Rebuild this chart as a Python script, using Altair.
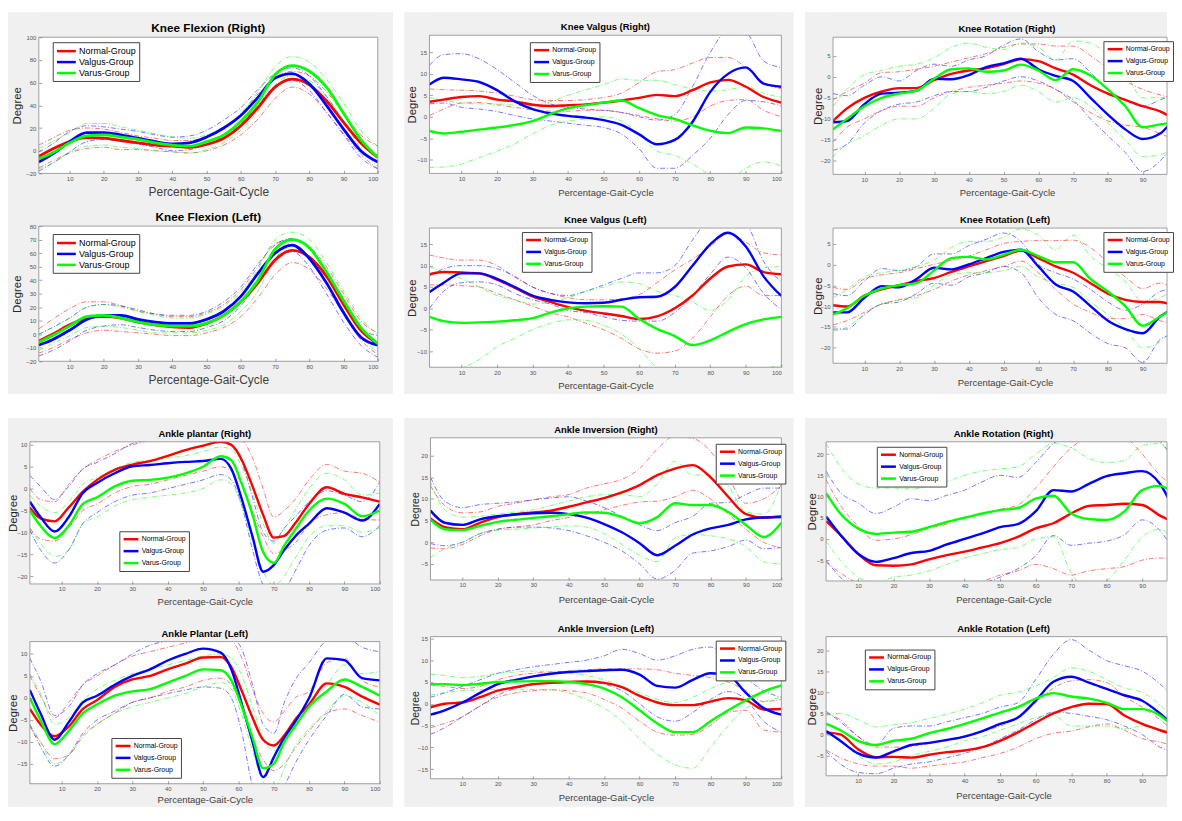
import altair as alt
import pandas as pd

GROUPS = ["Normal-Group", "Valgus-Group", "Varus-Group"]
SD_GROUPS = ["Normal-Group SD", "Valgus-Group SD", "Varus-Group SD"]
COLORS = ["#ff0000", "#0000ff", "#00ff00"]
FONT = "Liberation Sans"
PANEL_BG = "#f0f0f0"

X_STD = [1, 5, 10, 15, 20, 25, 30, 35, 40, 45, 50, 55, 60, 65, 70, 75, 80, 85, 90, 95, 100]
X_RC = [1, 5, 10, 15, 20, 25, 30, 35, 40, 45, 50, 55, 60, 65, 70, 75, 80, 85, 90, 95, 98]
X_AP = [1, 4, 8, 12, 16, 20, 25, 30, 35, 40, 45, 50, 55, 58, 61, 64, 67, 70, 73, 76, 80, 85, 90, 95, 100]
X_TICKS = [10, 20, 30, 40, 50, 60, 70, 80, 90, 100]
X_TICKS_RC = [10, 20, 30, 40, 50, 60, 70, 80, 90]

# Knee Flexion (Right)
KFR_NORMAL    = [-5, 1.5, 8, 11.5, 11, 9, 7, 5, 4, 3, 5.5, 11, 22, 38, 56, 63, 58, 44, 25, 7, -6]
KFR_NORMAL_HI = [5, 11, 18, 20, 19, 16, 13, 11, 9, 9, 12, 19, 32, 50, 64, 70, 66, 52, 33, 14, 4]
KFR_NORMAL_LO = [-15, -9, -2, 2, 3, 1, 1, 0, -1, -2, 0, 5, 14, 28, 46, 56, 50, 34, 15, -3, -16]
KFR_VALGUS    = [-10, -3, 8, 16, 16, 14, 11, 8, 6, 7, 12, 20, 31, 47, 64, 68, 59, 40, 19, 0, -10]
KFR_VALGUS_HI = [-1, 6, 17, 22, 21, 19, 17, 14, 12, 13, 18, 27, 38, 54, 68, 73, 66, 48, 26, 7, -4]
KFR_VALGUS_LO = [-18, -11, -1, 8, 10, 8, 6, 3, 0, 1, 6, 13, 24, 40, 57, 62, 53, 34, 14, -6, -16]
KFR_VARUS     = [-7, -2, 7, 13, 14, 12, 10, 7, 5, 4, 8, 14, 26, 43, 67, 75, 70, 56, 33, 10, -6]
KFR_VARUS_HI  = [2, 8, 16, 24, 24, 21, 18, 15, 12, 11, 14, 21, 33, 52, 74, 83, 78, 63, 42, 18, 4]
KFR_VARUS_LO  = [-16, -11, -2, 4, 5, 3, 2, 0, -1, -2, 1, 7, 18, 35, 58, 66, 62, 48, 26, 2, -14]

# Knee Flexion (Left)
KFL_NORMAL    = [-5, 0, 7, 12, 13, 12, 9, 7, 5.5, 5, 8, 14, 24, 38, 55, 62, 57, 43, 22, 3, -7]
KFL_NORMAL_HI = [4, 11, 19, 24, 24, 21, 17, 15, 13, 13, 16, 22, 33, 50, 67, 70, 65, 50, 30, 10, 1]
KFL_NORMAL_LO = [-14, -10, -4, 1, 3, 2, 1, 0, -1, -1, 1, 5, 13, 27, 44, 53, 48, 34, 15, -4, -15]
KFL_VALGUS    = [-8, -4, 3, 11, 14, 14, 11, 9, 8, 8, 11, 17, 28, 45, 60, 66, 56, 38, 16, -2, -8]
KFL_VALGUS_HI = [0, 5, 12, 20, 22, 21, 18, 15, 14, 14, 17, 24, 35, 52, 66, 71, 63, 45, 24, 4, -1]
KFL_VALGUS_LO = [-16, -12, -5, 3, 6, 7, 5, 3, 2, 2, 5, 10, 21, 38, 54, 61, 50, 30, 9, -8, -17]
KFL_VARUS     = [-6, -1, 6, 13, 14, 12, 9, 7, 6, 6, 8, 14, 24, 40, 63, 70, 64, 46, 25, 5, -7]
KFL_VARUS_HI  = [0, 5, 12, 20, 22, 20, 17, 14, 12, 12, 15, 21, 31, 48, 70, 75.5, 70, 53, 32, 12, 0]
KFL_VARUS_LO  = [-12, -7, -1, 5, 6, 5, 3, 1, 1, 1, 3, 7, 17, 32, 56, 65, 58, 40, 18, -2, -13]

# Knee Valgus (Right)
KVR_NORMAL    = [3.5, 4, 4.6, 4.8, 4, 3.6, 2.8, 2.5, 2.7, 2.9, 3.3, 3.8, 4.4, 5.1, 4.8, 6.2, 8, 8.6, 7, 4.6, 3.3]
KVR_NORMAL_HI = [6.5, 6.3, 6.2, 6, 5.5, 4.8, 4, 3.8, 3.8, 4, 4.5, 5.5, 8, 10.5, 11, 12.5, 13.8, 13.8, 11.5, 8, 6.5]
KVR_NORMAL_LO = [0.3, 1.8, 3.2, 3.3, 2.8, 2.2, 1.6, 1.3, 1.3, 1.5, 1.5, 1, 0.3, -0.5, -1, 0, 2.5, 3.8, 4, 1.5, 0]
KVR_VALGUS    = [7.5, 9.1, 8.7, 8.1, 6.2, 3.6, 1.8, 0.8, 0.2, -0.2, -0.8, -1.9, -4.1, -6.4, -5.4, -1.2, 5.8, 10, 11.5, 7.7, 7]
KVR_VALGUS_HI = [12, 14.5, 14.7, 13.5, 11, 8, 5, 3, 2.2, 1.8, 1.5, 1, 0, -0.8, 0.5, 7, 15, 20, 19.5, 13, 11.5]
KVR_VALGUS_LO = [3, 3.2, 2.2, 1.8, 1.2, 0.3, -0.5, -1, -1.5, -2, -2.5, -4, -7.5, -12, -12, -9, -5, 0.5, 3.8, 3.5, 2.5]
KVR_VARUS     = [-3.3, -3.9, -3.5, -3.0, -2.5, -1.9, -1.0, 0.6, 2.0, 2.7, 3.3, 3.8, 2.0, 0.4, -0.5, -2.0, -3.3, -3.8, -2.5, -2.7, -3.3]
KVR_VARUS_HI  = [4.5, 3.8, 3.2, 3, 3, 2.7, 2.5, 3.5, 5, 6.3, 7.5, 8.8, 8.5, 8.5, 7.5, 6.5, 6, 6.3, 7, 5.5, 4.5]
KVR_VARUS_LO  = [-11.8, -11.7, -11, -9.5, -8, -6.3, -4, -2, -1, -0.5, 0, -1, -4, -8, -9, -11, -13.5, -14.5, -12, -10.5, -11.5]

# Knee Valgus (Left)
KVL_NORMAL    = [8, 8.5, 8.4, 8.2, 6.7, 4.8, 2.8, 1.5, 0.3, -0.6, -1.2, -1.8, -2.5, -1.9, 0, 3, 7, 9.8, 10.3, 8.5, 8]
KVL_NORMAL_HI = [12.5, 11.8, 11.3, 11.3, 10, 7.3, 5, 3.5, 2.5, 2, 2, 2.2, 3.2, 6, 9, 11.5, 14.5, 17.5, 15.5, 13, 12.5]
KVL_NORMAL_LO = [5.5, 5.5, 5.3, 5, 3.5, 2, 0.5, -1, -2, -3.5, -5, -7, -9.5, -10.5, -10, -7, -2, 3, 5.2, 3, 3]
KVL_VALGUS    = [3.8, 6, 8.2, 8.2, 6.9, 5, 3, 2, 1.4, 1.2, 1.3, 2, 2.6, 2.7, 5, 10, 15, 17.7, 14.5, 7.5, 2.9]
KVL_VALGUS_HI = [7.5, 9.3, 10, 10, 9.3, 7.5, 5, 3.5, 3, 4, 5.5, 7, 8.3, 8.3, 10, 16, 21, 22, 20, 11, 6.2]
KVL_VALGUS_LO = [0, 4, 6, 6.2, 5.5, 3.5, 2, 1, -0.5, -1, -2, -2.8, -3, -3, -1, 3, 8, 12, 9.5, 3.5, -0.3]
KVL_VARUS     = [-2, -3, -3.4, -3.3, -3.1, -2.8, -2.3, -1, 0, 0.4, 0.5, 0.4, -2.5, -4.8, -6.5, -8.6, -7.5, -5.5, -3.7, -2.6, -2]
KVL_VARUS_HI  = [9.8, 8.5, 7, 5, 3, 2, 1, 1.5, 2.5, 4, 5, 6.2, 5.8, 4, 3, 1.5, -0.5, 2, 7.5, 9.5, 9.8]
KVL_VARUS_LO  = [-16, -15, -14, -12, -9, -7, -5, -3.5, -2.7, -2.8, -4, -6, -9.5, -14, -17, -18, -18, -17, -15, -14, -13.5]

# Knee Rotation (Right)
KRR_NORMAL    = [-10.5, -7.5, -5, -3.5, -2.7, -2.7, -0.8, 0.7, 1.5, 2, 3, 4.2, 3.7, 2, 0.5, -2, -4, -5.5, -7, -8.2, -9.5]
KRR_NORMAL_HI = [-5.5, -3.5, -1.5, 1, 1.2, 1.8, 2.5, 3.5, 4.5, 5.5, 7, 7.8, 7.8, 7.3, 7.3, 5, 2, -1, -3, -4.3, -5]
KRR_NORMAL_LO = [-15.5, -12, -10, -8, -7, -7, -5, -3.5, -2.5, -2, -1.5, -1, -1.5, -3, -6, -8.5, -10.5, -11.5, -12, -13.5, -14.5]
KRR_VALGUS    = [-10.8, -10.5, -6.5, -4, -3.8, -3.3, -0.5, -0.6, 0.4, 2.3, 3.2, 4.3, 1.8, 0.2, -1, -5, -9, -12.5, -14.8, -13.5, -11]
KRR_VALGUS_HI = [-4, -4.5, -2, 0, -1, 1.5, 3, 2.5, 4, 5, 7.5, 9, 6, 4, 4.3, 1, -3, -5.5, -7, -5.5, -4.5]
KRR_VALGUS_LO = [-17.5, -16, -11, -8, -6.5, -6, -4.5, -3.5, -3.5, -2.5, -1, 0, -1, -3, -5.5, -10, -14, -18, -22.5, -20, -17]
KRR_VARUS     = [-12.5, -10, -7, -5, -4, -3.3, -0.5, 1.8, 2, 1.2, 1.5, 2.9, 1.5, -0.8, 1.8, 0.3, -3, -7, -12, -11.3, -11]
KRR_VARUS_HI  = [-7, -3, 0.5, 1.5, 2.5, 3, 4.5, 7, 8, 7, 6.5, 8, 7, 4, 8.5, 8, 5, 1, -5, -5, -4.5]
KRR_VARUS_LO  = [-19, -16, -14, -11.5, -10, -10, -7.5, -4, -3.5, -4, -3.5, -2, -3.5, -6, -5, -7, -11, -15, -19, -18.5, -17.5]

# Knee Rotation (Left)
KRL_NORMAL    = [-9.8, -10.1, -7.5, -6, -5, -4, -3.3, -1.8, -0.5, 0.8, 2, 3.3, 1.5, -0.5, -2, -4.5, -7, -8.5, -9, -9, -9.6]
KRL_NORMAL_HI = [-5.5, -6, -3.5, -2.5, -2, -1, 0, 1, 2, 3.5, 5, 5.5, 5.7, 5.7, 5.8, 4, 0.5, -3, -5.8, -4.5, -5.3]
KRL_NORMAL_LO = [-14.5, -13.5, -11.5, -9.5, -8.5, -7.5, -6, -4, -2.5, -1.5, -0.5, 0.8, -2, -6, -9.5, -11.5, -13, -13, -12, -13.5, -14]
KRL_VALGUS    = [-11.5, -11.5, -8, -5.2, -5.5, -3.5, -0.8, -1.2, 0, 1.5, 3, 3.5, -0.5, -4.8, -6.5, -10, -13.5, -15.5, -16.5, -12.5, -11]
KRL_VALGUS_HI = [-7, -7.5, -4, -1, -1.5, -0.5, 2.5, 2.5, 4.5, 6, 7.5, 5.5, 0, -2, -3.5, -6, -9, -11, -9.5, -6.5, -6]
KRL_VALGUS_LO = [-15.5, -15.5, -12, -9.5, -9, -7, -4.5, -5, -3, -2, -0.5, -2, -8, -12, -13.5, -16.5, -19, -20, -23.5, -18, -17]
KRL_VARUS     = [-12, -10.5, -7.5, -5.8, -5, -4.5, -1.5, 1.5, 1.8, 1.2, 2.3, 3.5, 2, 0.5, 0.5, -3.5, -6.5, -10, -14.7, -12.5, -11]
KRL_VARUS_HI  = [-8, -6, -3, -2, -1.5, -0.5, 1, 4, 5.5, 5.5, 6.5, 8.5, 7, 3.5, 7, 2, -1, -4, -9, -8, -6.5]
KRL_VARUS_LO  = [-16, -15, -12, -9.5, -8.5, -8, -5, -2.5, -2, -2, -1.5, -0.5, -3, -4.5, -5.5, -9, -12, -15.5, -20, -18.5, -16]

# Ankle plantar (Right)
APR_NORMAL    = [-4.3, -6.8, -7.5, -4.3, -0.7, 2, 4.3, 5.5, 6.3, 7.5, 8.8, 9.8, 10.7, 10, 6.5, 0.5, -6, -11.2, -10.8, -8, -3.5, 0.3, -1.2, -2, -3]
APR_NORMAL_HI = [0, -2.5, -3, 1, 4.5, 6.5, 8.5, 10, 11, 11.5, 12, 12, 12, 11.5, 11, 7, 0, -6.5, -5, -2.5, 2, 5.5, 4, 3.5, 1.5]
APR_NORMAL_LO = [-9, -11.5, -12, -9, -5, -3.5, -1, 0.5, 1, 2, 3, 4, 5, 4, 1, -5, -11, -14.8, -14, -12.5, -8, -6, -5.5, -7, -7.2]
APR_VALGUS    = [-3, -6.5, -9.8, -6.5, -1, 1.3, 3.5, 5.1, 5.4, 5.8, 6.1, 6.3, 6.8, 4.5, -2.5, -11, -19, -17.5, -14, -11, -8, -4.5, -5.5, -7.3, -3.5]
APR_VALGUS_HI = [3, 0.5, -2.5, 0.5, 4.5, 6, 8, 10.3, 11, 11, 11, 11, 11, 10, 6, -2, -10, -12, -9, -6.5, -3, -0.5, -1.5, -3, 1.5]
APR_VALGUS_LO = [-9.5, -14, -17, -14, -8, -5.5, -3, -1.5, -1, 0, 1, 2, 3.2, 2, -4, -14, -22, -24, -23, -19, -13, -9.5, -9, -11, -8.5]
APR_VARUS     = [-5, -8.5, -11.3, -8.5, -3.5, -2, 0.5, 1.8, 2, 2.5, 3.5, 5, 7.4, 6.5, 1, -6, -14.5, -17, -13, -9.5, -5, -2.3, -3.5, -6.3, -5]
APR_VARUS_HI  = [-1.5, -4, -5.5, -3, 1, 2.5, 4.5, 6, 6.5, 7, 7.5, 8.5, 9.5, 9, 5, -1, -8, -12.5, -9, -5, 0, 3.5, 2, -1.5, -1]
APR_VARUS_LO  = [-9, -12.5, -15.5, -14, -8, -6.5, -4, -2.5, -2, -1.5, -1, 0, 2, 1, -4, -12, -19, -22, -20, -16, -11, -8.5, -8.5, -10, -9]

# Ankle Plantar (Left)
APL_NORMAL    = [-2.5, -6, -8.7, -6.5, -2.5, -0.5, 2.5, 4.2, 5, 6.5, 7.8, 9.2, 9.3, 7, 1.5, -4.5, -9.5, -10.8, -8.5, -5, -1.5, 3.3, 2.5, 0.3, -1.5]
APL_NORMAL_HI = [5, 0.5, -4.5, -1, 3, 5, 7.5, 9.5, 10.5, 11.5, 12.5, 13.5, 13.5, 13, 9, 2, -3.5, -5.5, -3, 0, 1.5, 8, 9, 4, 2.5]
APL_NORMAL_LO = [-6.5, -10, -13.8, -13, -8.5, -6, -3.5, -1, 0, 1.5, 2.5, 4, 4.5, 3, -2, -9, -14, -16.5, -15, -11.5, -7.5, -3.5, -2.5, -4, -5.5]
APL_VALGUS    = [1.8, -3.5, -9.5, -5.5, -1, 0.5, 3, 5, 6.5, 8.5, 10, 11.2, 10.3, 6.5, -1.5, -10, -18, -13.5, -9, -5.5, 0, 9, 8.6, 4.5, 4]
APL_VALGUS_HI = [9, 4, -4, -2, 3, 5.5, 7.5, 10, 12, 13, 14, 15, 15, 14, 11, 3, -6, -8, -1, 4, 8, 13, 14, 11.5, 10.5]
APL_VALGUS_LO = [-6, -11, -15.5, -13, -8, -5, -3, -1, 0, 1, 1.8, 2.5, 2.2, 0, -8, -20, -24, -24, -20, -15, -9.5, -4, 0.8, -2, -2.5]
APL_VARUS     = [0, -5, -10.5, -7.5, -3.5, -1.5, 0.5, 1.5, 2, 3.5, 5, 6.5, 6.3, 4, -2, -9, -16, -15, -10, -6.5, -2, 1.5, 4.2, 2.5, 0.5]
APL_VARUS_HI  = [5.5, 1, -6, -4.5, -0.5, 2, 4, 5.5, 6.5, 7.5, 8.5, 9.5, 10, 9, 5, -2, -9, -12, -9, -5, -1, 3, 7.5, 5.5, 6]
APL_VARUS_LO  = [-6, -10, -15, -13, -9, -6, -3.5, -2, -1, 0, 1, 2.5, 3.5, 2, -4, -12, -19, -21, -16, -11, -7, -3, 0.5, -1, -4]

# Ankle Inversion (Right)
AIR_NORMAL    = [5.5, 3.5, 3, 4.5, 5.8, 6.5, 6.9, 7.3, 8.2, 9.2, 10.2, 11.5, 13.2, 15.5, 17, 17.8, 15, 10.5, 6.5, 5.7, 6]
AIR_NORMAL_HI = [13, 8.5, 6.8, 7, 8.3, 9, 9.8, 10.5, 11, 12.5, 13.5, 14.5, 17, 21.5, 24.5, 24, 21, 15, 9, 10, 13]
AIR_NORMAL_LO = [-1.3, -1.5, -0.5, 1.5, 3, 3.5, 4, 5, 5.7, 6.5, 7.5, 8.5, 9.3, 9.5, 10.5, 12, 10, 6.5, 3, 0, -1.3]
AIR_VALGUS    = [7.3, 4.5, 4, 5.3, 6, 6.4, 6.7, 6.8, 6.5, 5.7, 4.2, 2.3, -0.2, -3, -0.8, 1.8, 3.2, 4, 5.3, 5.7, 5.8]
AIR_VALGUS_HI = [15, 9.5, 8, 8.7, 9, 9.3, 9.8, 10.2, 10.5, 9.5, 8, 6, 4, 2.7, 4.5, 6, 9, 9.2, 11, 12.5, 12.5]
AIR_VALGUS_LO = [-0.3, -0.8, 0, 2, 3, 3.5, 3.5, 3.3, 2.7, 1.5, 0, -2, -5, -8.5, -6.5, -2.5, -2, -1, 0.5, -1.5, -1.2]
AIR_VARUS     = [5.2, 3, 2.8, 3.8, 4.7, 5.2, 5.6, 6, 6.5, 6.9, 6.8, 5.8, 4.4, 5.8, 9, 8.6, 8.6, 7, 4, 1.2, 4.5]
AIR_VARUS_HI  = [14, 7.5, 5.8, 6, 6.5, 7, 7.5, 8.5, 9.5, 10.5, 11, 11, 10.5, 13.5, 18.7, 15.5, 15.5, 13, 7, 6.5, 13.5]
AIR_VARUS_LO  = [-3.5, -1.5, 0, 2, 2.8, 3, 3.3, 3.5, 3.8, 3.5, 2, -0.5, -3, -4.5, 1, 1.8, 1.5, 0.8, -1, -4.5, -5]

# Ankle Inversion (Left)
AIL_NORMAL    = [-0.8, 0, 0.3, 1.5, 3, 3.8, 4.5, 4.8, 5, 5.1, 4.8, 3.8, 1.8, 0.3, -0.3, -0.3, 0.5, 1.3, 0.8, -1.3, -1.2]
AIL_NORMAL_HI = [4.3, 4, 3.5, 4, 5.5, 6.5, 7, 7.3, 7.5, 7.8, 8, 8, 8, 7.8, 7, 6.5, 6, 5, 3, 0.5, 1]
AIL_NORMAL_LO = [-5.5, -4.5, -3, -0.5, 1.5, 2.5, 3, 3.2, 3, 2.5, 1, -1, -4, -6.5, -7.2, -7, -5, -2, -1.5, -6, -6.5]
AIL_VALGUS    = [-2.5, -1.5, 0.3, 2.5, 4.5, 5.5, 6.3, 6.9, 7.3, 7.5, 7.7, 7.8, 6.7, 4.1, 3.7, 5.5, 7, 6.5, 2.5, -1, -2.5]
AIL_VALGUS_HI = [1.5, 2.5, 4, 5.5, 7, 7.8, 8.5, 9, 9.5, 10, 11, 12.5, 11.5, 10, 11, 12.5, 13, 10, 6, 3, 1.5]
AIL_VALGUS_LO = [-7, -5.5, -3, -0.5, 2, 3.5, 4.3, 4.7, 5, 5, 4.5, 3, 0, -3, -4, -2, 1, 2.8, 1, -4, -6.5]
AIL_VARUS     = [4.5, 4.5, 4.3, 4.6, 5, 5.1, 5.2, 5.2, 5, 4.5, 3.5, 1.5, -1.5, -4.5, -6.5, -6.5, -4, -1.5, 0.8, 2.8, 4.2]
AIL_VARUS_HI  = [6.8, 6.5, 6, 6.3, 7, 7.3, 7.5, 7.3, 7, 6.5, 5.5, 4, 2.5, 1, 0.3, 1.5, 3.5, 5, 5.5, 6, 6.8]
AIL_VARUS_LO  = [2, 2.5, 3, 3.2, 3.3, 3.3, 3.3, 3.2, 2.5, 1, -1, -4, -8, -11.5, -14, -14.8, -10, -5, -1, 0.5, 1.5]

# Ankle Rotation (Right)
ARR_NORMAL    = [4.2, 1, -3.5, -6.2, -6.3, -6, -4.8, -3.8, -3, -2, -1, 0.5, 2.5, 3.7, 6, 7.8, 8, 8.3, 8, 5.5, 4.3]
ARR_NORMAL_HI = [14, 8, 3, -0.3, 0, 1, 2.5, 3.5, 5, 6, 7, 8, 12, 17, 21.5, 24, 25, 24, 20, 15, 13]
ARR_NORMAL_LO = [-5.5, -8, -10.5, -12, -12.5, -12.5, -12, -11.5, -11, -10, -8.5, -7.5, -6, -7, -8.5, -7.5, -7, -6.5, -5, -4.5, -4.5]
ARR_VALGUS    = [5.3, 1, -3.5, -5.4, -4.5, -3.3, -2.8, -1.3, 0, 1.3, 2.8, 3.5, 6.5, 11.5, 11.2, 13, 14.8, 15.5, 16, 13, 8.5]
ARR_VALGUS_HI = [16, 11, 8.5, 6, 7.5, 9.5, 9, 10.3, 11.5, 13.5, 15, 14.5, 18, 22.5, 25, 26, 26, 26, 25, 23, 20]
ARR_VALGUS_LO = [-5, -9, -12, -14, -15, -15, -14, -13, -12, -10.5, -9, -7, -4, 0.8, -1.5, -1, -0.5, 1, 4.5, 2, -1.5]
ARR_VARUS     = [10.8, 6, 2.5, 1.2, 1.5, 1.7, 2.8, 4, 5, 6, 6.8, 7.3, 9.5, 10.2, 6, 4.7, 4.5, 6.5, 11.5, 12.5, 11.3]
ARR_VARUS_HI  = [22.5, 17, 13, 12, 12, 11.8, 12.5, 13.5, 15, 16, 16.5, 17, 20, 22.5, 21.5, 19, 18, 18.5, 22, 22.5, 19]
ARR_VARUS_LO  = [-0.5, -5, -9, -10.3, -9, -8.5, -7.5, -6, -4.5, -3.5, -2.5, -2, 0, 0.5, -8, -12, -10, -5, 0.5, 2.3, 0.5]

# Ankle Rotation (Left)
ARL_NORMAL    = [0.5, 0, -3.5, -5.4, -5.3, -5.5, -4.8, -4.2, -3.8, -3, -1.5, 0.5, 2.8, 5, 6.5, 7.3, 7.2, 4.5, 2.5, 1, 0.2]
ARL_NORMAL_HI = [5, 3.5, -0.5, -3, -3, -2.8, -2.2, -1.5, -0.3, 0.8, 2, 4, 7.5, 11, 12.7, 13, 12.3, 9, 6.5, 3.5, 1.5]
ARL_NORMAL_LO = [-3.7, -5.5, -7, -7.5, -7.5, -8, -7.5, -7, -6.5, -5.5, -4.5, -3, -1, 0.3, 0.8, 1.8, 2.5, 1, -1, -1.8, -2.5]
ARL_VALGUS    = [0.8, -1.5, -4.5, -5.5, -4, -2.5, -2, -1.3, -0.5, 0.8, 2.5, 4, 8, 12.5, 13.7, 12.3, 10.8, 9.3, 8, 5, 2.8]
ARL_VALGUS_HI = [5.5, 3, -0.5, -2.5, 1.5, 2, 2, 3, 4, 5, 6.5, 7.5, 13, 19, 22.5, 20, 17.5, 16.3, 15, 12, 9.5]
ARL_VALGUS_LO = [-4, -7, -9, -9.3, -8, -7, -6.5, -5.5, -4.5, -3, -1, 1, 3.5, 5.3, 5, 4.3, 3.5, 2, 0, -3, -4]
ARL_VARUS     = [2.5, 1, -1.5, -2.5, -1.5, -1, 0.3, 1.3, 2.5, 3.8, 5.2, 6.5, 8.5, 9.8, 9, 8.5, 7.5, 6, 6, 4.5, 2.5]
ARL_VARUS_HI  = [4.5, 5, 3.5, 1.8, 2.3, 2.8, 3.8, 4.8, 6, 7.5, 9.3, 10, 11.5, 13.5, 15.8, 15, 13, 11, 10, 7, 4.5]
ARL_VARUS_LO  = [0, -1.5, -5, -7, -6.5, -5, -4, -3, -1.5, -0.5, 1, 2.5, 4, 4.5, 2, 2, 2, 1.3, 2, 1.3, 0.5]

TICK = 3  # inward tick length (MATLAB style)


def panel(title, xs, series, w, h, margins, xdom, ydom, yticks, xticks,
          ytx, xty, leg, big=False, dx=0, ytfs=11.5):
    L, T, R, B = margins
    W, H = L + w + R, T + h + B
    mean_rows, sd_rows = [], []
    for g, gs, (m, hi, lo) in zip(GROUPS, SD_GROUPS, series):
        for x, v in zip(xs, m):
            mean_rows.append({"x": x, "v": v, "g": g})
        for x, v in zip(xs, hi):
            sd_rows.append({"x": x, "v": v, "gs": gs, "b": "hi"})
        for x, v in zip(xs, lo):
            sd_rows.append({"x": x, "v": v, "gs": gs, "b": "lo"})
    xsc = alt.Scale(domain=xdom, range=[L, L + w], nice=False, zero=False)
    ysc = alt.Scale(domain=ydom, range=[T + h, T], nice=False, zero=False)
    xaxis = alt.Axis(values=xticks, title="Percentage-Gait-Cycle", grid=False, ticks=True,
                     tickSize=TICK, tickColor="#7a7a7a", tickWidth=0.7,
                     domain=False, offset=-B - TICK, labelFontSize=6, labelColor="#555555",
                     labelFont=FONT, labelPadding=2, titleFont=FONT,
                     titleFontSize=12 if big else 9.5, titleFontWeight="normal",
                     titleColor="#404040", titleX=L + w / 2 + dx, titleY=xty + TICK,
                     titleBaseline="middle", titleAlign="center", zindex=1)
    yaxis = alt.Axis(values=yticks, title="Degree", grid=False, ticks=True, tickSize=TICK,
                     tickColor="#7a7a7a", tickWidth=0.7, domain=False,
                     offset=-L - TICK, labelFontSize=6, labelColor="#555555", labelFont=FONT,
                     labelPadding=3, titleFont=FONT, titleFontSize=ytfs,
                     titleFontWeight="normal", titleColor="#262626", titleX=ytx - TICK,
                     titleY=T + h / 2, titleBaseline="middle", titleAlign="center", zindex=1)
    one = pd.DataFrame({"k": [0]})

    def rect(x0, x1, y0, y1, **kw):
        return alt.Chart(one).mark_rect(**kw).encode(
            x=alt.value(x0), x2=alt.value(x1), y=alt.value(y0), y2=alt.value(y1))

    box = rect(L, L + w, T, T + h, fill="white", strokeWidth=0)
    masks = [rect(0, W, 0, T, fill=PANEL_BG, strokeWidth=0),
             rect(0, W, T + h, H, fill=PANEL_BG, strokeWidth=0),
             rect(0, L, 0, H, fill=PANEL_BG, strokeWidth=0),
             rect(L + w, W, 0, H, fill=PANEL_BG, strokeWidth=0)]
    border = rect(L, L + w, T, T + h, fill="white", fillOpacity=0, stroke="#8a8a8a",
                  strokeWidth=0.8)
    ttl = alt.Chart(one).mark_text(
        text=title, font=FONT, fontSize=11.8 if big else 9.5, fontWeight="bold",
        color="black", align="center", baseline="alphabetic").encode(
        x=alt.value(L + w / 2 + dx), y=alt.value(T - 5))
    sd = alt.Chart(pd.DataFrame(sd_rows)).mark_line(
        clip=True, strokeWidth=0.9, strokeDash=[5, 2, 1, 2], opacity=0.6,
        interpolate="monotone").encode(
        x=alt.X("x:Q", scale=xsc, axis=xaxis),
        y=alt.Y("v:Q", scale=ysc, axis=yaxis),
        stroke=alt.Stroke("gs:N", scale=alt.Scale(domain=SD_GROUPS, range=COLORS), legend=None),
        detail="b:N")
    ssize = 90 if big else 56
    legend = alt.Legend(orient="none", legendX=L + leg[0], legendY=T + leg[1], title=None,
                        symbolType="M-1,0L3,0", symbolStrokeWidth=2.5, symbolSize=ssize,
                        labelFont=FONT, labelFontSize=9 if big else 7, labelColor="black",
                        labelOffset=2 + ssize ** 0.5, fillColor="white",
                        strokeColor="#444444", padding=3, rowPadding=0 if big else 2,
                        zindex=2)
    mean = alt.Chart(pd.DataFrame(mean_rows)).mark_line(
        clip=True, strokeWidth=2.8 if big else 2.4, interpolate="monotone").encode(
        x=alt.X("x:Q", scale=xsc, axis=xaxis),
        y=alt.Y("v:Q", scale=ysc, axis=yaxis),
        color=alt.Color("g:N", scale=alt.Scale(domain=GROUPS, range=COLORS), legend=legend))
    return alt.layer(box, sd, mean, *masks, border, ttl).properties(width=W, height=H)


S = lambda *a: [a[0:3], a[3:6], a[6:9]]

kfr = panel("Knee Flexion (Right)", X_STD,
            S(KFR_NORMAL, KFR_NORMAL_HI, KFR_NORMAL_LO, KFR_VALGUS, KFR_VALGUS_HI, KFR_VALGUS_LO,
              KFR_VARUS, KFR_VARUS_HI, KFR_VARUS_LO),
            341, 137, (31, 25, 15, 31), [1, 100], [-20, 100], list(range(-20, 101, 20)),
            X_TICKS, -21, 18, (14, 5), big=True)
kfl = panel("Knee Flexion (Left)", X_STD,
            S(KFL_NORMAL, KFL_NORMAL_HI, KFL_NORMAL_LO, KFL_VALGUS, KFL_VALGUS_HI, KFL_VALGUS_LO,
              KFL_VARUS, KFL_VARUS_HI, KFL_VARUS_LO),
            341, 136, (31, 22, 15, 33), [1, 100], [-20, 80], list(range(-20, 81, 10)),
            X_TICKS, -21, 18, (14, 8), big=True)
apr = panel("Ankle plantar (Right)", X_AP,
            S(APR_NORMAL, APR_NORMAL_HI, APR_NORMAL_LO, APR_VALGUS, APR_VALGUS_HI, APR_VALGUS_LO,
              APR_VARUS, APR_VARUS_HI, APR_VARUS_LO),
            352, 143, (22, 24, 13, 30), [1, 100], [-21.8, 10.7], [-20, -15, -10, -5, 0, 5, 10],
            X_TICKS, -16, 18, (90, 90))
apl = panel("Ankle Plantar (Left)", X_AP,
            S(APL_NORMAL, APL_NORMAL_HI, APL_NORMAL_LO, APL_VALGUS, APL_VALGUS_HI, APL_VALGUS_LO,
              APL_VARUS, APL_VARUS_HI, APL_VARUS_LO),
            352, 143, (22, 28, 13, 23), [1, 100], [-19.5, 12.8], [-15, -10, -5, 0, 5, 10],
            X_TICKS, -16, 16, (82, 97))

kvr = panel("Knee Valgus (Right)", X_STD,
            S(KVR_NORMAL, KVR_NORMAL_HI, KVR_NORMAL_LO, KVR_VALGUS, KVR_VALGUS_HI, KVR_VALGUS_LO,
              KVR_VARUS, KVR_VARUS_HI, KVR_VARUS_LO),
            354, 139, (25, 23, 12, 31), [1, 100], [-13.2, 19], [-10, -5, 0, 5, 10, 15],
            X_TICKS, -17, 19, (101, 7))
kvl = panel("Knee Valgus (Left)", X_STD,
            S(KVL_NORMAL, KVL_NORMAL_HI, KVL_NORMAL_LO, KVL_VALGUS, KVL_VALGUS_HI, KVL_VALGUS_LO,
              KVL_VARUS, KVL_VARUS_HI, KVL_VARUS_LO),
            354, 140, (25, 24, 12, 27), [1, 100], [-13.8, 18.8], [-10, -5, 0, 5, 10, 15],
            X_TICKS, -17, 18, (93, 4))
air = panel("Ankle Inversion (Right)", X_STD,
            S(AIR_NORMAL, AIR_NORMAL_HI, AIR_NORMAL_LO, AIR_VALGUS, AIR_VALGUS_HI, AIR_VALGUS_LO,
              AIR_VARUS, AIR_VARUS_HI, AIR_VARUS_LO),
            353, 143, (26, 20, 12, 34), [1, 100], [-8.7, 24.1], [-5, 0, 5, 10, 15, 20],
            X_TICKS, -15, 20, (287, 6), ytfs=10.5)
ail = panel("Ankle Inversion (Left)", X_STD,
            S(AIL_NORMAL, AIL_NORMAL_HI, AIL_NORMAL_LO, AIL_VALGUS, AIL_VALGUS_HI, AIL_VALGUS_LO,
              AIL_VARUS, AIL_VARUS_HI, AIL_VARUS_LO),
            353, 143, (26, 23, 12, 28), [1, 100], [-17.2, 15.4], [-15, -10, -5, 0, 5, 10, 15],
            X_TICKS, -15, 19, (287, 4), ytfs=10.5)

krr = panel("Knee Rotation (Right)", X_RC,
            S(KRR_NORMAL, KRR_NORMAL_HI, KRR_NORMAL_LO, KRR_VALGUS, KRR_VALGUS_HI, KRR_VALGUS_LO,
              KRR_VARUS, KRR_VARUS_HI, KRR_VARUS_LO),
            336, 138, (28, 25, 0, 30), [1, 97], [-23.2, 9.4], [-20, -15, -10, -5, 0, 5],
            X_TICKS_RC, -15, 18, (272, 4), dx=7)
krl = panel("Knee Rotation (Left)", X_RC,
            S(KRL_NORMAL, KRL_NORMAL_HI, KRL_NORMAL_LO, KRL_VALGUS, KRL_VALGUS_HI, KRL_VALGUS_LO,
              KRL_VARUS, KRL_VARUS_HI, KRL_VARUS_LO),
            336, 136, (28, 24, 0, 31), [1, 97], [-23.7, 8.7], [-20, -15, -10, -5, 0, 5],
            X_TICKS_RC, -15, 19, (272, 4), dx=5)
arr = panel("Ankle Rotation (Right)", X_RC,
            S(ARR_NORMAL, ARR_NORMAL_HI, ARR_NORMAL_LO, ARR_VALGUS, ARR_VALGUS_HI, ARR_VALGUS_LO,
              ARR_VARUS, ARR_VARUS_HI, ARR_VARUS_LO),
            343, 140, (21, 24, 0, 33), [1, 97], [-9.9, 22.9], [-5, 0, 5, 10, 15, 20],
            X_TICKS_RC, -14, 19, (51, 5), dx=7)
arl = panel("Ankle Rotation (Left)", X_RC,
            S(ARL_NORMAL, ARL_NORMAL_HI, ARL_NORMAL_LO, ARL_VALGUS, ARL_VALGUS_HI, ARL_VALGUS_LO,
              ARL_VARUS, ARL_VARUS_HI, ARL_VARUS_LO),
            343, 140, (21, 23, 0, 31), [1, 97], [-9.8, 23.2], [-5, 0, 5, 10, 15, 20],
            X_TICKS_RC, -14, 20, (39, 13), dx=7)


def ind(c):
    return c.resolve_scale(color="independent", stroke="independent")


def pair(a, b):
    return ind(alt.vconcat(a, b, spacing=0))


top = ind(alt.hconcat(pair(kfr, kfl), pair(kvr, kvl), pair(krr, krl), spacing=12))
bottom = ind(alt.hconcat(pair(apr, apl), pair(air, ail), pair(arr, arl), spacing=12))

chart = ind(alt.vconcat(top, bottom, spacing=24)).properties(
    padding={"left": 0, "top": 2, "right": 0, "bottom": 0},
    background="white").configure_view(fill=PANEL_BG, strokeWidth=0)

chart.save("out.html", embed_options={"renderer": "svg", "actions": False})
